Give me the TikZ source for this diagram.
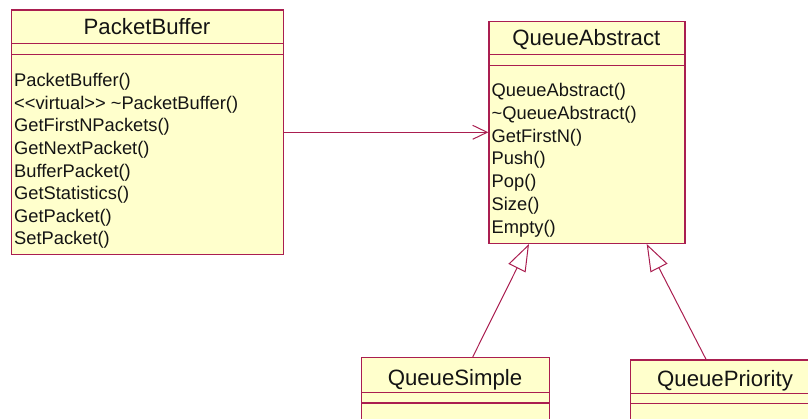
\documentclass[tikz,border=0pt]{standalone}
\usepackage{fontspec}
\setmainfont{Liberation Sans}
\usetikzlibrary{arrows.meta}
\definecolor{umlborder}{RGB}{170,30,80}
\definecolor{umlfill}{RGB}{255,255,204}
\definecolor{umltext}{RGB}{20,20,20}
\begin{document}
\begin{tikzpicture}[x=1pt,y=-1pt,
  classbox/.style={draw=umlborder, fill=umlfill, line width=1.3pt, rectangle, anchor=north west, inner sep=0pt},
  titletext/.style={font=\fontsize{22.2}{26}\selectfont, text=umltext, anchor=base, inner sep=0pt},
  methtext/.style={font=\fontsize{18.3}{21}\selectfont, text=umltext, anchor=base west, inner sep=0pt},
  compsep/.style={draw=umlborder, line width=1.3pt},
  conn/.style={draw=umlborder, line width=1pt}]
\useasboundingbox (0,0) rectangle (808,419);
\clip (0,0) rectangle (808,419);

% PacketBuffer
\node[classbox, minimum width=272pt, minimum height=244.5pt] (PB) at (11,9.5) {};
\draw[compsep] (PB.west |- 0,43.3) -- (PB.east |- 0,43.3);
\draw[compsep] (PB.west |- 0,54.5) -- (PB.east |- 0,54.5);
\node[titletext] (PBt) at (147,35) {PacketBuffer};
\foreach \t [count=\i from 0] in {PacketBuffer(),
  {<}\kern0pt{<}\kern0pt virtual{>}\kern0pt{>}\kern0pt{} \textasciitilde PacketBuffer(),
  GetFirstNPackets(), GetNextPacket(), BufferPacket(), GetStatistics(),
  GetPacket(), SetPacket()}
  \node[methtext] (PBm\i) at (14, 86.7+22.6*\i) {\t};

% QueueAbstract
\node[classbox, minimum width=196pt, minimum height=221.7pt] (QA) at (488.3,21) {};
\draw[compsep] (QA.west |- 0,54.3) -- (QA.east |- 0,54.3);
\draw[compsep] (QA.west |- 0,65.7) -- (QA.east |- 0,65.7);
\node[titletext] (QAt) at (586.3,45.5) {QueueAbstract};
\foreach \t [count=\i from 0] in {QueueAbstract(), \textasciitilde QueueAbstract(),
  GetFirstN(), Push(), Pop(), Size(), Empty()}
  \node[methtext] (QAm\i) at (491.5, 96.5+22.8*\i) {\t};

% QueueSimple
\node[classbox, minimum width=188pt, minimum height=80pt] (QS) at (361,357) {};
\draw[compsep] (QS.west |- 0,392.3) -- (QS.east |- 0,392.3);
\draw[compsep] (QS.west |- 0,403) -- (QS.east |- 0,403);
\node[titletext] (QSt) at (455,385) {QueueSimple};

% QueuePriority
\node[classbox, minimum width=190pt, minimum height=80pt] (QP) at (630,359.3) {};
\draw[compsep] (QP.west |- 0,393.3) -- (QP.east |- 0,393.3);
\draw[compsep] (QP.west |- 0,403.7) -- (QP.east |- 0,403.7);
\node[titletext] (QPt) at (725,386.5) {QueuePriority};

% association
\coordinate (assocy) at (380,132.3);
\draw[conn, -{Straight Barb[length=14.5pt,width=14pt]}] (PB.east |- assocy) -- (QA.west |- assocy);

% generalizations
\draw[conn, -{Triangle[open, length=27pt, width=19pt, fill=white]}]
  ([xshift=111.7pt]QS.north west) -- ([xshift=40.7pt]QA.south west);
\draw[conn, -{Triangle[open, length=27pt, width=19pt, fill=white]}]
  ([xshift=76pt]QP.north west) -- ([xshift=158.4pt]QA.south west);
\end{tikzpicture}
\end{document}
